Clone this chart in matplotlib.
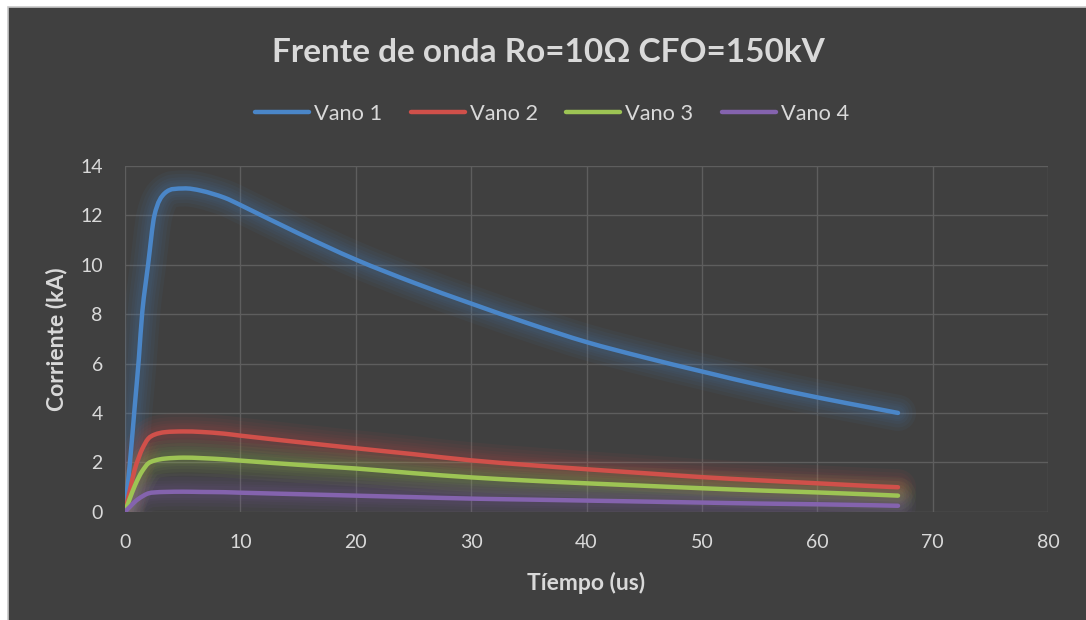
import matplotlib
matplotlib.use("Agg")
import matplotlib.pyplot as plt
from matplotlib.patches import Rectangle, PathPatch
from matplotlib.path import Path
from matplotlib.lines import Line2D

plt.rcParams['font.family'] = ['Lato', 'DejaVu Sans']

# Corriente por vano (kA) frente al tiempo (us)
tiempo = [0, 0.43, 0.85, 1.2, 1.5, 2.0, 2.55, 3.45, 5.05, 6.6, 8.6, 10,
          15, 20, 25, 30, 35, 40, 45, 50, 55, 60, 65, 67]
vano_1 = [0, 2.0, 4.3, 6.2, 8.1, 10.0, 12.0, 12.9, 13.09, 13.0, 12.72, 12.42,
          11.28, 10.21, 9.28, 8.43, 7.62, 6.87, 6.25, 5.68, 5.13, 4.63, 4.18, 4.0]
vano_2 = [0, 0.88, 1.72, 2.2, 2.55, 2.95, 3.12, 3.22, 3.25, 3.23, 3.16, 3.08,
          2.82, 2.57, 2.33, 2.08, 1.89, 1.72, 1.56, 1.40, 1.27, 1.15, 1.03, 0.99]
vano_3 = [0, 0.55, 1.05, 1.4, 1.65, 1.95, 2.07, 2.15, 2.19, 2.17, 2.12, 2.07,
          1.90, 1.75, 1.56, 1.39, 1.26, 1.15, 1.05, 0.95, 0.86, 0.78, 0.69, 0.65]
vano_4 = [0, 0.2, 0.4, 0.53, 0.62, 0.74, 0.78, 0.8, 0.81, 0.8, 0.79, 0.77,
          0.71, 0.65, 0.59, 0.53, 0.49, 0.45, 0.41, 0.37, 0.33, 0.30, 0.26, 0.24]

series = [("Vano 1", vano_1, "#4A86C8"),
          ("Vano 2", vano_2, "#D0504A"),
          ("Vano 3", vano_3, "#9DC454"),
          ("Vano 4", vano_4, "#8463AE")]

BG = "#404040"
TEXT = "#D9D9D9"
GRID = "#5E5E5E"


def curva_suave(x, y):
    """Smoothed line through the points (cubic Bezier segments, Excel style)."""
    n = len(x)
    pend = []
    for i in range(n):
        a, b = max(i - 1, 0), min(i + 1, n - 1)
        pend.append((y[b] - y[a]) / (x[b] - x[a]))
    verts = [(x[0], y[0])]
    codes = [Path.MOVETO]
    for i in range(n - 1):
        h = (x[i + 1] - x[i]) / 3
        verts += [(x[i] + h, y[i] + pend[i] * h),
                  (x[i + 1] - h, y[i + 1] - pend[i + 1] * h),
                  (x[i + 1], y[i + 1])]
        codes += [Path.CURVE4] * 3
    return Path(verts, codes)


fig = plt.figure(figsize=(10.86, 6.2), dpi=100, facecolor="white")
# chart area with thin light border (right/bottom run off the canvas)
fig.patches.append(Rectangle((8 / 1086, -0.05), 1.1, 1.05 - 7 / 620,
                             transform=fig.transFigure, facecolor=BG,
                             edgecolor="#C8C8C8", linewidth=1.2, zorder=-10))

ax = fig.add_axes([125 / 1086, 1 - 511.7 / 620, 923 / 1086, 345.7 / 620])
ax.patch.set_alpha(0)

handles = []
for nombre, valores, color in series:
    trazo = curva_suave(tiempo, valores)
    # soft glow under the line
    for w in [26, 21, 16, 12, 9]:
        ax.add_patch(PathPatch(trazo, fill=False, edgecolor=color, lw=w, alpha=0.06,
                               capstyle="round", joinstyle="round", zorder=2))
    ax.add_patch(PathPatch(trazo, fill=False, edgecolor=color, lw=3.2,
                           capstyle="round", joinstyle="round", zorder=3))
    handles.append(Line2D([], [], color=color, lw=3.2, solid_capstyle="round", label=nombre))

ax.set_xlim(0, 80)
ax.set_ylim(0, 14)
ax.set_xticks(range(0, 81, 10))
ax.set_yticks(range(0, 15, 2))
ax.grid(True, color=GRID, linewidth=1.0)
ax.set_axisbelow(True)
for s in ax.spines.values():
    s.set_visible(False)
ax.tick_params(length=0, labelsize=14, colors=TEXT)
ax.tick_params(axis="x", pad=16)
ax.tick_params(axis="y", pad=16)

ax.set_xlabel("Tíempo (us)", fontsize=16.5, fontweight="bold", color=TEXT, labelpad=15)
ax.set_ylabel("Corriente (kA)", fontsize=16.5, fontweight="bold", color=TEXT, labelpad=9)

fig.text(548 / 1086, 1 - 53 / 620, "Frente de onda Ro=10Ω CFO=150kV", ha="center", va="center",
         fontsize=24, fontweight="bold", color=TEXT)

leg = ax.legend(handles=handles, loc="center", bbox_to_anchor=(552 / 1086, 1 - 114 / 620),
                bbox_transform=fig.transFigure, ncol=4, frameon=False, fontsize=15.7,
                handlelength=2.48, handletextpad=0.23, columnspacing=1.3, labelcolor=TEXT,
                borderpad=0, borderaxespad=0)

fig.savefig("out.png", dpi=100, facecolor="white")
